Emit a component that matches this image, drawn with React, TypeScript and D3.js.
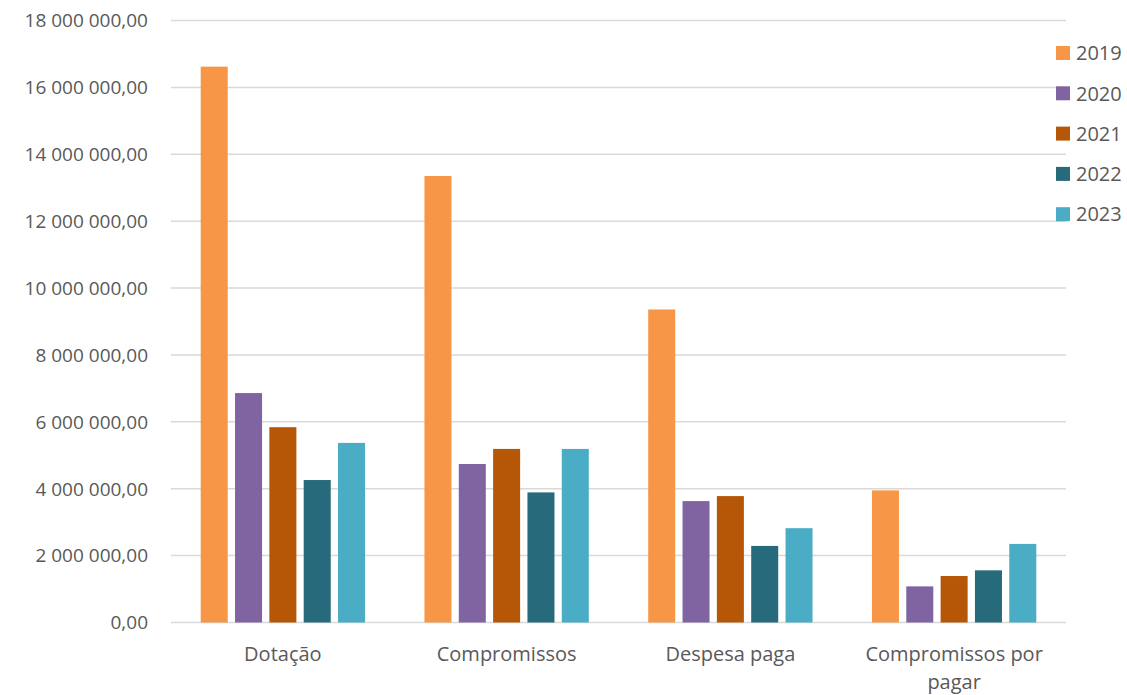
import React from "react";
import * as d3 from "d3";

const categories = ["Dotação", "Compromissos", "Despesa paga", "Compromissos por pagar"];
const years = ["2019", "2020", "2021", "2022", "2023"];
const v2019 = [16620000, 13350000, 9360000, 3950000];
const v2020 = [6860000, 4740000, 3630000, 1080000];
const v2021 = [5840000, 5190000, 3780000, 1390000];
const v2022 = [4260000, 3890000, 2290000, 1560000];
const v2023 = [5370000, 5190000, 2820000, 2350000];
const yTicks = [0, 2000000, 4000000, 6000000, 8000000, 10000000, 12000000, 14000000, 16000000, 18000000];
const colors = ["#F79646", "#8064A2", "#B65708", "#276A7C", "#4BACC6"];

const series = [v2019, v2020, v2021, v2022, v2023];

const fmt = (v: number) => {
  const s = Math.round(v).toString().replace(/\B(?=(\d{3})+(?!\d))/g, " ");
  return s + ",00";
};

export default function App() {
  const W = 1127, H = 695;
  const left = 171, right = 1066, top = 20.5, bottom = 622.5;
  const x = d3.scaleBand<string>().domain(categories).range([left, right]).paddingInner(0).paddingOuter(0);
  const bw = x.bandwidth();
  const outer = 29.7;
  const xi = d3.scaleBand<string>().domain(years).range([outer, bw - outer]).paddingInner(0.213).paddingOuter(0);
  const y = d3.scaleLinear().domain([0, 18000000]).range([bottom, top]);
  const font = "'Open Sans', sans-serif";
  const txt = "#595959";

  const wrap = (s: string) => (s === "Compromissos por pagar" ? ["Compromissos por", "pagar"] : [s]);

  return (
    <svg width={W} height={H} style={{ position: "absolute", left: 0, top: 0, background: "#fff" }}>
      <rect x={0} y={0} width={W} height={H} fill="#fff" />
      {yTicks.map((t) => (
        <g key={t}>
          <line x1={left} x2={right} y1={y(t)} y2={y(t)} stroke="#D9D9D9" strokeWidth={1.5} />
          <text x={148} y={y(t)} dy="0.36em" textAnchor="end" fontFamily={font} fontSize={19} fill={txt}>
            {fmt(t)}
          </text>
        </g>
      ))}
      {categories.map((c, ci) => (
        <g key={c}>
          {series.map((s, si) => (
            <rect
              key={si}
              x={(x(c) as number) + (xi(years[si]) as number)}
              y={y(s[ci])}
              width={xi.bandwidth()}
              height={bottom - y(s[ci])}
              fill={colors[si]}
            />
          ))}
          {wrap(c).map((line, li) => (
            <text
              key={li}
              x={(x(c) as number) + bw / 2}
              y={661 + li * 28}
              textAnchor="middle"
              fontFamily={font}
              fontSize={20}
              fill={txt}
            >
              {line}
            </text>
          ))}
        </g>
      ))}
      {years.map((yr, i) => (
        <g key={yr}>
          <rect x={1056} y={46 + i * 40.3} width={14} height={14} fill={colors[i]} />
          <text x={1076} y={53 + i * 40.3} dy="0.36em" fontFamily={font} fontSize={20} fill={txt}>
            {yr}
          </text>
        </g>
      ))}
    </svg>
  );
}
